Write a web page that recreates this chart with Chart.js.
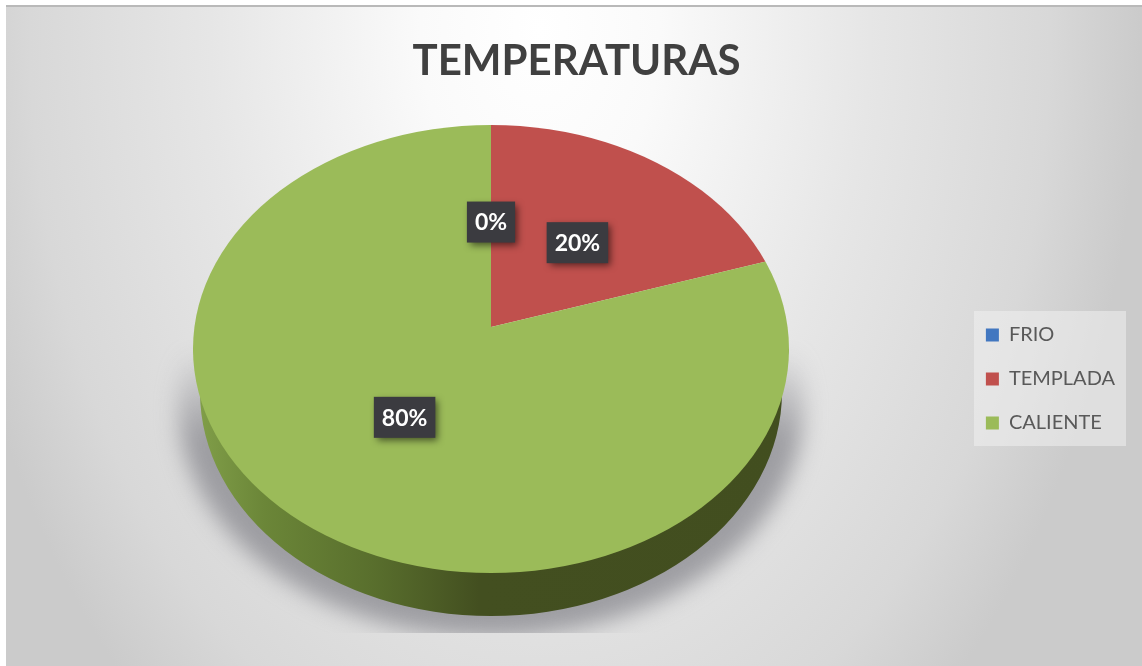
<!DOCTYPE html>
<html><head><meta charset="utf-8">
<style>html,body{margin:0;padding:0;background:#fff;overflow:hidden}canvas{display:block}</style>
<script src="https://cdn.jsdelivr.net/npm/chart.js@4"></script>
</head><body><canvas id="c" width="1142" height="666"></canvas>
<script>
const chartTitle = 'TEMPERATURAS';
const categories = ['FRIO', 'TEMPLADA', 'CALIENTE'];
const values = [0, 20, 80];
const colors = ['#4277c0', '#c0504d', '#9bbb59'];

// look of the tilted pie (screen geometry of the 3D projection)
const rim = {cx: 491, cy: 349, rx: 298, ry: 224, depth: 43};
const apex = {x: 491, y: 327, sx: 350, sy: 257};
const labelFrac = 0.42;
const labelDrop = 3;
const legendDrop = 28;

function rimPath(ctx, dy) {
  ctx.beginPath();
  ctx.ellipse(rim.cx, rim.cy + dy, rim.rx, rim.ry, 0, 0, Math.PI * 2);
}

const scene = {
  id: 'scene',
  afterLayout(chart) {
    chart.legend.top += legendDrop;
    chart.legend.bottom += legendDrop;
  },
  beforeDraw(chart) {
    const ctx = chart.ctx;
    ctx.save();
    ctx.fillStyle = '#fff';
    ctx.fillRect(0, 0, 1142, 666);
    // panel
    ctx.beginPath(); ctx.rect(6, 5, 1136, 661); ctx.clip();
    ctx.save();
    ctx.translate(540, 30);
    ctx.scale(1, 1.5);
    const g = ctx.createRadialGradient(0, 0, 0, 0, 0, 600);
    g.addColorStop(0, '#ffffff');
    g.addColorStop(0.2, '#fafafa');
    g.addColorStop(0.55, '#e6e6e6');
    g.addColorStop(0.85, '#d8d8d8');
    g.addColorStop(1, '#cbcbcb');
    ctx.fillStyle = g;
    ctx.fillRect(-800, -100, 1700, 1300);
    ctx.restore();
    ctx.fillStyle = '#b9b9b9';
    ctx.fillRect(6, 5, 1136, 2);
    // shadow below the pie
    ctx.save();
    ctx.beginPath(); ctx.rect(150, 340, 680, 293); ctx.clip();
    ctx.filter = 'blur(11px)';
    const sh = ctx.createLinearGradient(0, 350, 0, 440);
    sh.addColorStop(0, 'rgba(150,150,155,0)');
    sh.addColorStop(1, 'rgba(150,150,155,0.9)');
    ctx.fillStyle = sh;
    ctx.beginPath();
    ctx.ellipse(rim.cx, rim.cy + 56, rim.rx + 15, rim.ry + 8, 0, 0, Math.PI * 2);
    ctx.fill();
    ctx.restore();
    // legend box
    ctx.fillStyle = 'rgba(240,240,240,0.55)';
    ctx.fillRect(974, 311, 152, 135);
    ctx.restore();
  },
  beforeDatasetsDraw(chart) {
    const ctx = chart.ctx;
    const arcs = chart.getDatasetMeta(0).data;
    // side wall
    const side = ctx.createLinearGradient(rim.cx - rim.rx, 0, rim.cx + rim.rx, 0);
    side.addColorStop(0, '#82a04a');
    side.addColorStop(0.12, '#6b8638');
    side.addColorStop(0.3, '#596f2d');
    side.addColorStop(0.48, '#434f20');
    side.addColorStop(1, '#424e1f');
    ctx.save();
    ctx.fillStyle = side;
    ctx.beginPath();
    ctx.ellipse(rim.cx, rim.cy + rim.depth, rim.rx - 7, rim.ry, 0, 0, Math.PI);
    ctx.lineTo(rim.cx - rim.rx, rim.cy);
    ctx.lineTo(rim.cx + rim.rx, rim.cy);
    ctx.closePath();
    ctx.fill();
    ctx.restore();
    // top face: library arcs under the tilt, trimmed by the rim
    ctx.save();
    rimPath(ctx, 0);
    ctx.clip();
    arcs.forEach(arc => {
      if (arc.endAngle - arc.startAngle <= 0) return;
      ctx.save();
      ctx.translate(apex.x, apex.y);
      ctx.scale(apex.sx / arc.outerRadius, apex.sy / arc.outerRadius);
      ctx.translate(-arc.x, -arc.y);
      arc.draw(ctx);
      ctx.restore();
    });
    ctx.restore();
    return false;
  },
  afterDraw(chart) {
    const ctx = chart.ctx;
    const arcs = chart.getDatasetMeta(0).data;
    const total = values.reduce((a, b) => a + b, 0);
    ctx.save();
    ctx.font = 'bold 23px Lato';
    ctx.textAlign = 'center';
    ctx.textBaseline = 'middle';
    arcs.forEach((arc, i) => {
      const mid = (arc.startAngle + arc.endAngle) / 2;
      const x = apex.x + Math.cos(mid) * apex.sx * labelFrac;
      const y = apex.y + labelDrop + Math.sin(mid) * apex.sy * labelFrac;
      const text = Math.round(values[i] / total * 100) + '%';
      const w = ctx.measureText(text).width + 16;
      const h = 41;
      ctx.save();
      ctx.shadowColor = 'rgba(0,0,0,0.55)';
      ctx.shadowBlur = 7;
      ctx.shadowOffsetX = 3;
      ctx.shadowOffsetY = 3;
      ctx.fillStyle = '#3b3b40';
      ctx.fillRect(x - w / 2, y - h / 2, w, h);
      ctx.restore();
      ctx.fillStyle = '#ffffff';
      ctx.fillText(text, x, y + 1);
    });
    ctx.restore();
  }
};

new Chart(document.getElementById('c'), {
  type: 'pie',
  data: {
    labels: categories,
    datasets: [{data: values, backgroundColor: colors, borderWidth: 0}]
  },
  plugins: [scene],
  options: {
    responsive: false,
    animation: false,
    layout: {padding: {left: 28, right: 17, top: 36, bottom: 0}},
    plugins: {
      tooltip: {enabled: false},
      title: {
        display: true,
        text: chartTitle,
        color: '#404040',
        font: {family: 'Lato', size: 42, weight: 'bold'},
        padding: {top: 0, bottom: 10}
      },
      legend: {
        position: 'right',
        labels: {
          boxWidth: 13,
          boxHeight: 13,
          color: '#595959',
          font: {family: 'Lato', size: 20},
          padding: 24
        }
      }
    }
  }
});
</script></body></html>
